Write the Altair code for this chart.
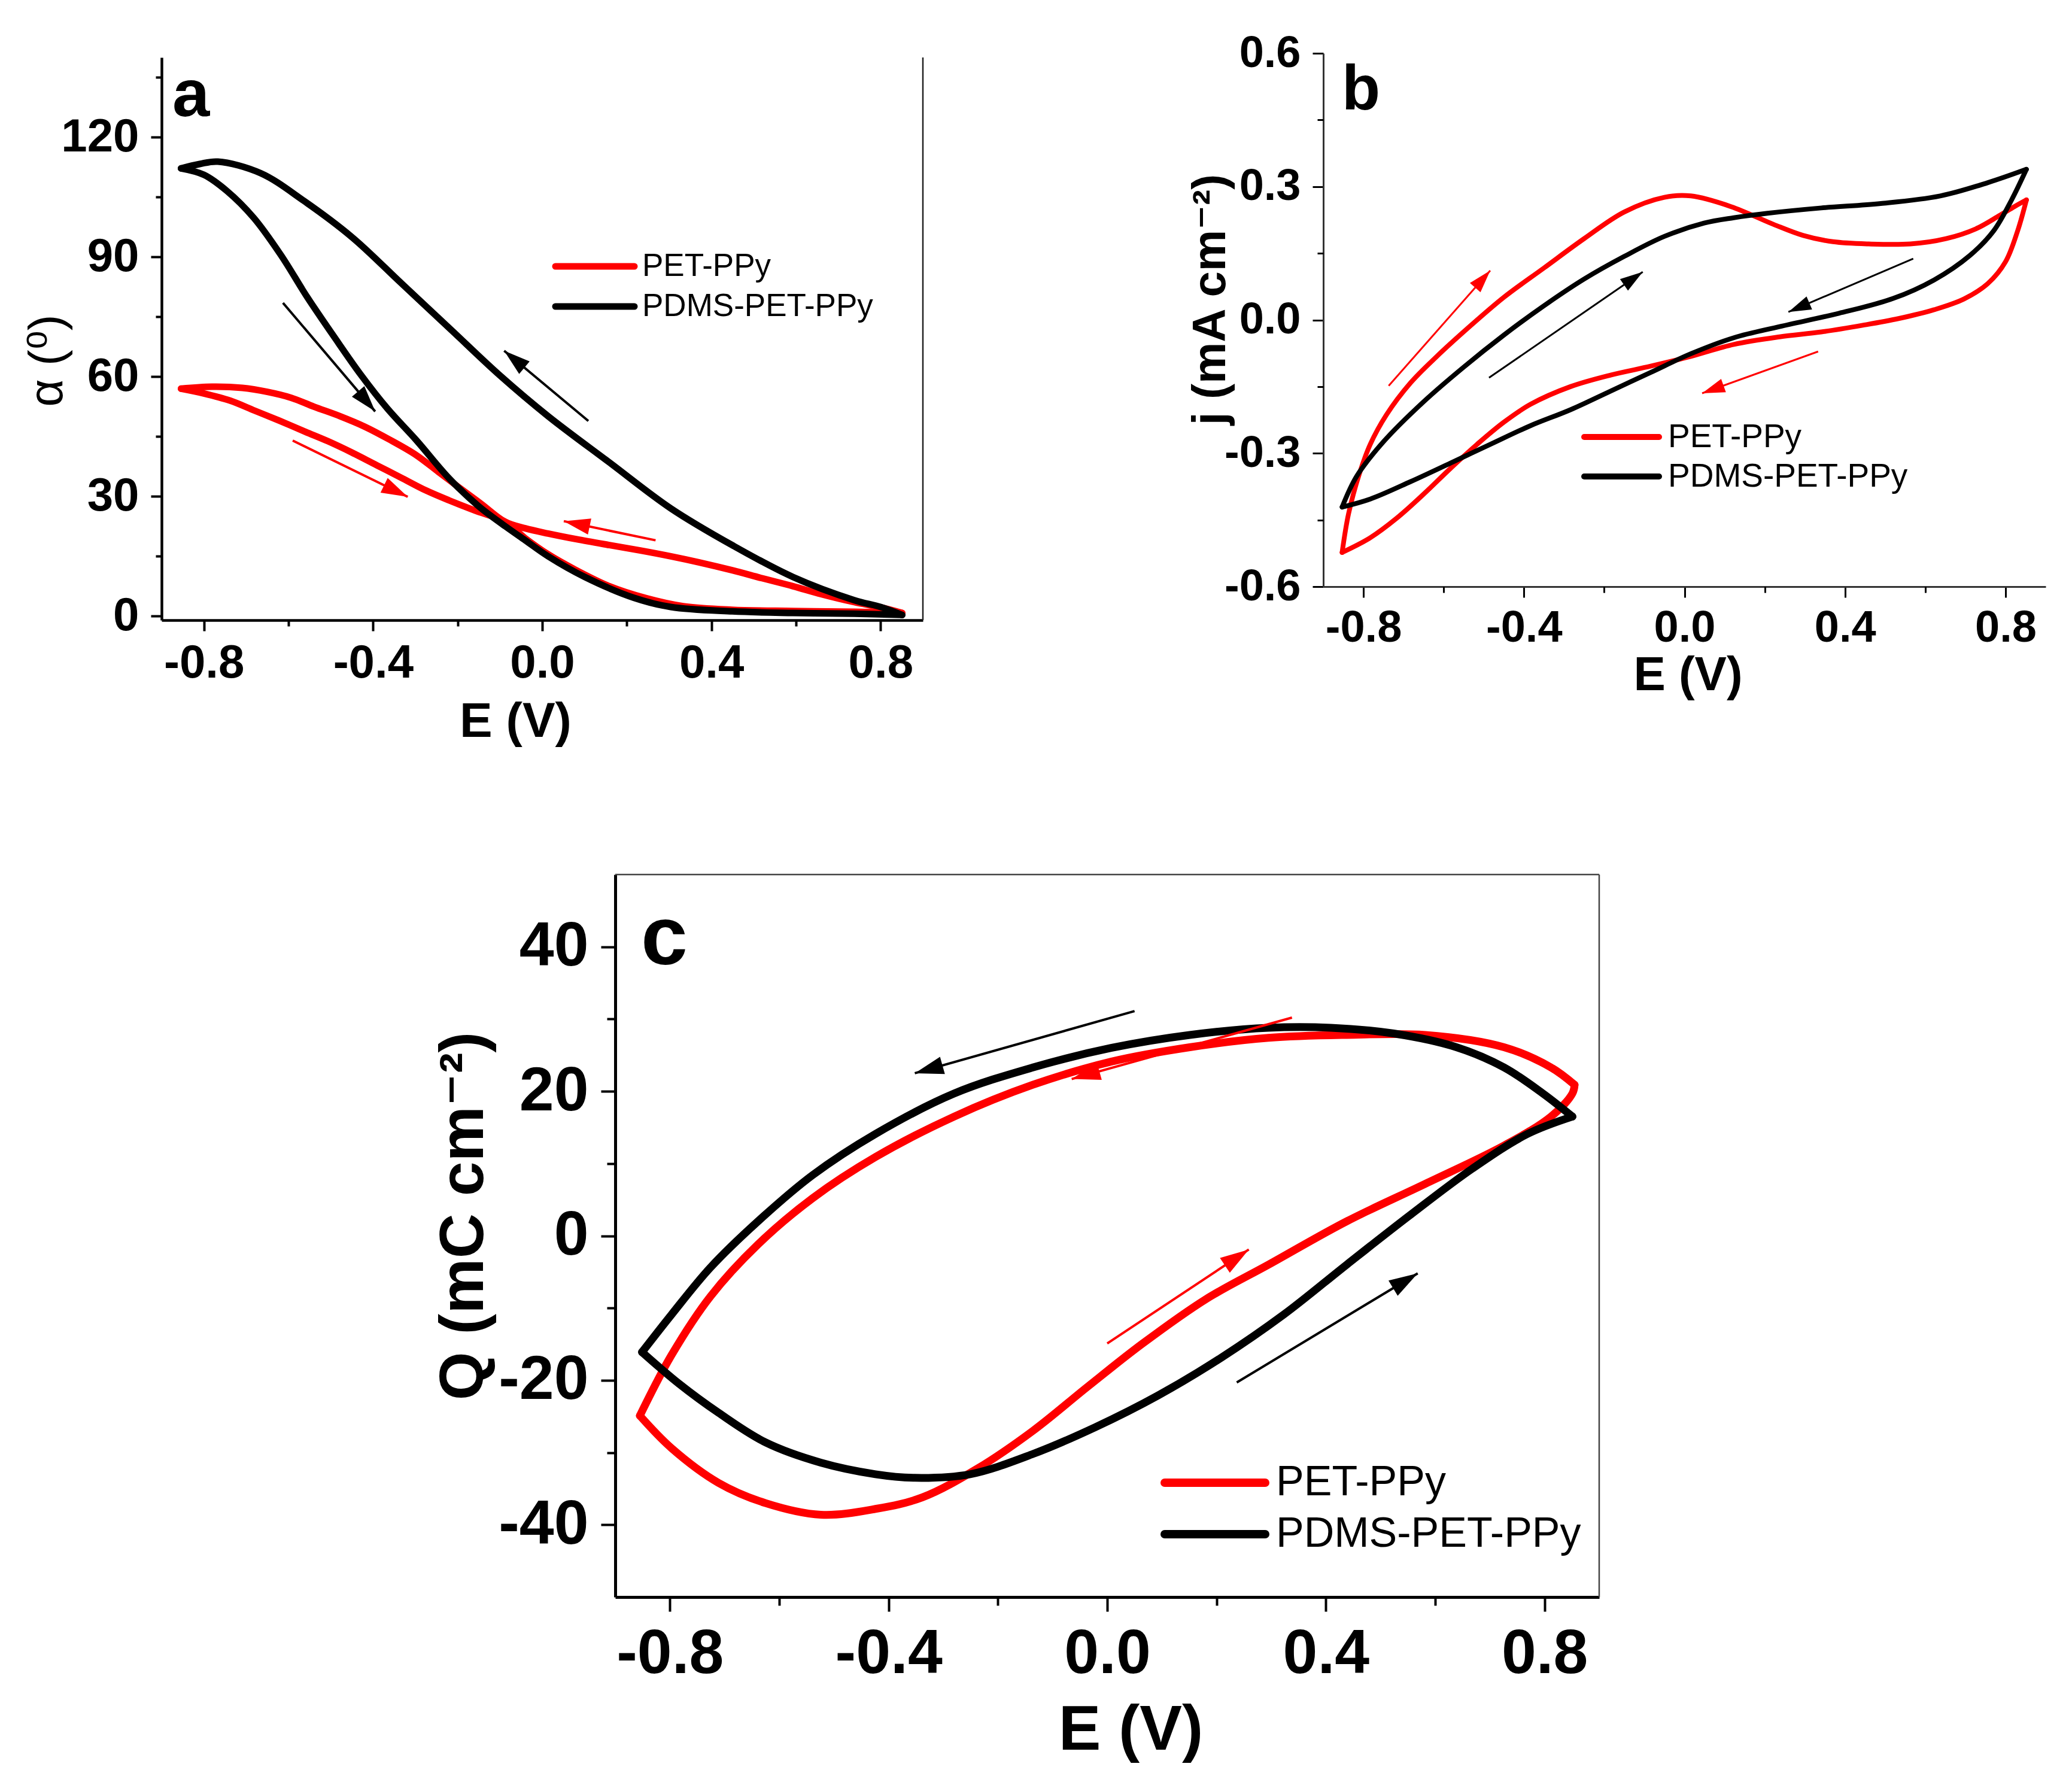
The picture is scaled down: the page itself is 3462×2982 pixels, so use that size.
import math
import altair as alt
import pandas as pd

# ---------------- data ----------------
SERIES = ["PET-PPy", "PDMS-PET-PPy"]
RED = "#ff0000"
BLACK = "#000000"
SERIES_COLORS = [RED, BLACK]

XTICKS = [-0.8, -0.4, 0.0, 0.4, 0.8]
XMINOR = [-0.6, -0.2, 0.2, 0.6]

# panel a : contact angle alpha (deg) vs E (V), each loop in scan order
A_RED_E = [-0.854, -0.80, -0.738, -0.68, -0.622, -0.56, -0.506, -0.45, -0.391, -0.33, -0.275, -0.22, -0.16, -0.087,
           -0.04, 0.014, 0.072, 0.159, 0.246, 0.333, 0.449, 0.593, 0.738, 0.851,
           0.80, 0.738, 0.66, 0.593, 0.52, 0.449, 0.37, 0.304, 0.23, 0.159, 0.08, 0.014, -0.04, -0.087,
           -0.145, -0.2, -0.246, -0.30, -0.362, -0.42, -0.478, -0.54, -0.593, -0.65, -0.709, -0.781, -0.854]
A_RED_V = [57.0, 55.8, 54.0, 51.5, 49.0, 46.2, 43.8, 41.0, 37.8, 34.5, 31.5, 29.0, 26.5, 23.6,
           19.5, 15.5, 12.0, 7.5, 4.5, 2.5, 1.6, 1.3, 1.1, 0.8,
           2.2, 3.5, 5.5, 7.5, 9.5, 11.5, 13.5, 15.0, 16.5, 17.8, 19.3, 20.7, 22.0, 23.6,
           28.2, 32.5, 36.2, 40.5, 44.3, 47.5, 50.1, 52.5, 54.7, 56.2, 57.2, 57.5, 57.0]
A_BLACK_E = [-0.854, -0.80, -0.745, -0.682, -0.618, -0.556, -0.492, -0.429, -0.366, -0.297, -0.22, -0.15, -0.087,
             -0.04, 0.014, 0.101, 0.217, 0.304, 0.449, 0.593, 0.738, 0.851,
             0.80, 0.738, 0.593, 0.449, 0.304, 0.159, 0.014, -0.101, -0.217, -0.333, -0.449, -0.564, -0.666,
             -0.767, -0.81, -0.854]
A_BLACK_V = [112.2, 110.6, 106.5, 99.8, 90.5, 80.0, 70.0, 60.5, 52.0, 44.0, 34.5, 27.5, 22.5,
             19.0, 15.0, 9.8, 4.6, 2.3, 1.2, 0.8, 0.6, 0.3,
             2.3, 4.0, 9.8, 17.8, 27.0, 38.5, 50.1, 60.4, 71.9, 83.4, 94.9, 104.1, 111.0,
             113.9, 113.3, 112.2]
A_ARROW_E0 = [-0.613, 0.109, -0.590, 0.268]
A_ARROW_V0 = [78.5, 48.9, 44.0, 19.0]
A_ARROW_E1 = [-0.395, -0.09, -0.318, 0.051]
A_ARROW_V1 = [51.3, 66.5, 29.9, 23.8]
A_ARROW_C = [BLACK, BLACK, RED, RED]

# panel b : current density j (mA cm-2) vs E (V)
B_RED_E = [-0.853, -0.837, -0.81, -0.783, -0.743, -0.683, -0.617, -0.543, -0.45, -0.35, -0.25, -0.15, -0.05, 0.016,
           0.116, 0.222, 0.296, 0.37, 0.459, 0.563, 0.652, 0.726, 0.785, 0.822, 0.852,
           0.83, 0.80, 0.756, 0.696, 0.622, 0.533, 0.444, 0.341, 0.237, 0.123, 0.016, -0.084, -0.184, -0.284,
           -0.384, -0.45, -0.517, -0.583, -0.65, -0.717, -0.783, -0.853]
B_RED_J = [-0.523, -0.436, -0.346, -0.28, -0.214, -0.142, -0.082, -0.021, 0.051, 0.117, 0.183, 0.243, 0.276, 0.279,
           0.255, 0.215, 0.19, 0.176, 0.171, 0.171, 0.183, 0.205, 0.235, 0.255, 0.27,
           0.2, 0.131, 0.082, 0.047, 0.023, 0.003, -0.012, -0.027, -0.038, -0.055, -0.082, -0.104, -0.124, -0.15,
           -0.19, -0.23, -0.28, -0.334, -0.392, -0.446, -0.49, -0.523]
B_BLACK_E = [-0.853, -0.817, -0.75, -0.65, -0.55, -0.45, -0.35, -0.25, -0.15, -0.05, 0.049, 0.123, 0.207, 0.341,
             0.489, 0.637, 0.756, 0.852,
             0.815, 0.77, 0.711, 0.622, 0.519, 0.385, 0.237, 0.123, 0.016, -0.084, -0.184, -0.284, -0.384,
             -0.484, -0.583, -0.683, -0.783, -0.853]
B_BLACK_J = [-0.421, -0.352, -0.274, -0.184, -0.106, -0.034, 0.032, 0.092, 0.143, 0.188, 0.218, 0.23, 0.24, 0.252,
             0.262, 0.279, 0.309, 0.339,
             0.27, 0.2, 0.145, 0.09, 0.048, 0.015, -0.015, -0.04, -0.076, -0.118, -0.16, -0.202, -0.238,
             -0.28, -0.322, -0.364, -0.403, -0.421]
B_ARROW_E0 = [-0.737, -0.487, 0.57, 0.333]
B_ARROW_V0 = [-0.148, -0.13, 0.138, -0.071]
B_ARROW_E1 = [-0.484, -0.104, 0.259, 0.044]
B_ARROW_V1 = [0.111, 0.108, 0.018, -0.165]
B_ARROW_C = [RED, BLACK, BLACK, RED]

# panel c : charge Q (mC cm-2) vs E (V)
C_RED_E = [-0.855, -0.797, -0.711, -0.625, -0.524, -0.424, -0.338, -0.237, -0.136, -0.036, 0.065, 0.18, 0.295,
           0.438, 0.582, 0.726, 0.812, 0.851, 0.855,
           0.812, 0.726, 0.582, 0.438, 0.295, 0.151, 0.007, -0.136, -0.28, -0.424, -0.539, -0.639, -0.726,
           -0.797, -0.855]
C_RED_Q = [-24.9, -29.4, -34.2, -37.0, -38.6, -37.8, -36.2, -32.2, -27.0, -20.9, -14.9, -8.8, -4.0,
           2.0, 7.2, 12.5, 16.5, 19.7, 20.9,
           23.3, 26.1, 27.8, 27.8, 27.4, 26.1, 24.1, 20.9, 16.5, 10.9, 5.2, -1.2, -8.4,
           -16.5, -24.9]
C_BLACK_E = [-0.851, -0.783, -0.711, -0.625, -0.524, -0.424, -0.352, -0.251, -0.136, -0.022, 0.093, 0.208, 0.323,
             0.438, 0.553, 0.668, 0.769, 0.851,
             0.797, 0.726, 0.639, 0.524, 0.409, 0.295, 0.151, 0.007, -0.136, -0.28, -0.424, -0.539, -0.639,
             -0.726, -0.797, -0.851]
C_BLACK_Q = [-16.1, -20.5, -24.5, -28.6, -31.4, -33.0, -33.5, -33.0, -30.2, -26.5, -22.1, -16.9, -10.9,
             -4.0, 2.8, 9.3, 14.1, 16.5,
             19.7, 23.3, 26.1, 28.0, 28.8, 28.8, 27.8, 26.0, 23.3, 19.7, 14.1, 8.4, 2.0,
             -4.4, -10.9, -16.1]
C_ARROW_E0 = [0.05, 0.338, 0.0, 0.237]
C_ARROW_V0 = [31.1, 30.2, -14.9, -20.3]
C_ARROW_E1 = [-0.352, -0.065, 0.259, 0.568]
C_ARROW_V1 = [22.5, 21.7, -1.9, -5.2]
C_ARROW_C = [BLACK, RED, RED, BLACK]

# ---------------- layout / style ----------------
W, H = 3462, 2982
XD = [-0.9, 0.9]
FONT = "Liberation Sans, Arial, Helvetica, DejaVu Sans, sans-serif"
HEAD = "M0,0L0.62,2L-0.62,2Z"

PA = dict(xr=[270, 1542], yr=[1036, 96], yd=[-1, 140], yv=[0, 30, 60, 90, 120], ym=[15, 45, 75, 105, 135],
          yfmt="d", lw=11, aw=4, head=44, tick=18, mtick=10, tw=4, dw=4.5, dc="black",
          lfs=78, lpx=15, lpy=20, tfs=82, xt=(861, 194), yt=(-167, 602), ytfs=80, ytw="normal",
          ytitle="\u03b1 (\u2070)",
          letter="a", lx=288, ly=194, lfsz=112,
          leg=dict(x0=928, x1=1060, tx=1073, y=[445, 512], fs=53, w=11))
PB = dict(xr=[2211, 3418], yr=[980, 89], yd=[-0.6, 0.6], yv=[-0.6, -0.3, 0.0, 0.3, 0.6],
          ym=[-0.45, -0.15, 0.15, 0.45], yfmt=".1f", lw=8, aw=3, head=38, tick=18, mtick=10, tw=3, dw=3,
          dc="#333333", lfs=74, lpx=15, lpy=20, tfs=80, xt=(2820, 172), yt=(-165, 500), ytfs=78, ytw="bold",
          ytitle="j (mA cm\u207b\u00b2)",
          letter="b", lx=2242, ly=183, lfsz=105,
          leg=dict(x0=2647, x1=2772, tx=2787, y=[730, 796], fs=55, w=10))
PC = dict(xr=[1028, 2672], yr=[2668, 1461], yd=[-50, 50], yv=[-40, -20, 0, 20, 40],
          ym=[-30, -10, 10, 30], yfmt="d", lw=13, aw=4, head=48, tick=24, mtick=14, tw=4, dw=5,
          dc="black", lfs=104, lpx=20, lpy=21, tfs=106, xt=(1889, 254), yt=(-222, 2031), ytfs=104,
          ytw="bold", ytitle="Q (mC cm\u207b\u00b2)",
          letter="c", lx=1071, ly=1611, lfsz=140,
          leg=dict(x0=1946, x1=2114, tx=2132, y=[2477, 2563], fs=70, w=14))


def fmt_expr(f):
    return f"datum.value < 0 ? '-' + format(-datum.value, '{f}') : format(datum.value, '{f}')"


ONE = pd.DataFrame({"k": [0]})


def loop_rows(name, col, es, vs):
    """Split a closed scan loop into its forward and reverse branches at the turning point."""
    turn = max(range(len(es)), key=lambda k: es[k])
    rows = []
    for b, idx in enumerate([range(0, turn + 1), range(turn, len(es))]):
        for i in idx:
            rows.append({"E": es[i], "v": vs[i], "s": name, "col": col, "br": f"{name}-{b}", "i": i})
    return rows


def panel(P, red_e, red_v, blk_e, blk_v, ae0, av0, ae1, av1, acol):
    xs = alt.Scale(domain=XD, range=P["xr"], nice=False, zero=False)
    ys = alt.Scale(domain=P["yd"], range=P["yr"], nice=False, zero=False)

    rows = loop_rows(SERIES[0], SERIES_COLORS[0], red_e, red_v) + \
        loop_rows(SERIES[1], SERIES_COLORS[1], blk_e, blk_v)
    df = pd.DataFrame(rows)

    xmaj = alt.Axis(orient="bottom", offset=P["yr"][0] - H, values=XTICKS, labelExpr=fmt_expr(".1f"),
                    tickSize=P["tick"], tickWidth=P["tw"], tickColor="black",
                    domainColor=P["dc"], domainWidth=P["dw"],
                    labelFont=FONT, labelFontSize=P["lfs"], labelFontWeight="bold", labelColor="black",
                    labelPadding=P["lpx"], labelFlush=False, labelOverlap=False, grid=False,
                    title="E (V)", titleFont=FONT, titleFontSize=P["tfs"], titleFontWeight="bold",
                    titleColor="black", titleX=P["xt"][0], titleY=P["xt"][1], titleAlign="center",
                    titleBaseline="alphabetic", titleAngle=0)
    ymaj = alt.Axis(orient="left", offset=-P["xr"][0], values=P["yv"], labelExpr=fmt_expr(P["yfmt"]),
                    tickSize=P["tick"], tickWidth=P["tw"], tickColor="black",
                    domainColor=P["dc"], domainWidth=P["dw"],
                    labelFont=FONT, labelFontSize=P["lfs"], labelFontWeight="bold", labelColor="black",
                    labelPadding=P["lpy"], labelFlush=False, labelOverlap=False, grid=False,
                    title=P["ytitle"], titleFont=FONT, titleFontSize=P["ytfs"], titleFontWeight=P["ytw"],
                    titleColor="black", titleX=P["yt"][0], titleY=P["yt"][1], titleAlign="center",
                    titleBaseline="alphabetic", titleAngle=270)
    xmin = alt.Axis(orient="bottom", offset=P["yr"][0] - H, values=XMINOR, labels=False, domain=False,
                    tickSize=P["mtick"], tickWidth=P["tw"], tickColor="black", grid=False, title=None)
    ymin = alt.Axis(orient="left", offset=-P["xr"][0], values=P["ym"], labels=False, domain=False,
                    tickSize=P["mtick"], tickWidth=P["tw"], tickColor="black", grid=False, title=None)

    lines = alt.Chart(df).mark_line(strokeWidth=P["lw"], interpolate="catmull-rom",
                                    strokeJoin="round", strokeCap="round").encode(
        x=alt.X("E:Q", scale=xs, axis=xmaj),
        y=alt.Y("v:Q", scale=ys, axis=ymaj),
        color=alt.Color("col:N", scale=None),
        detail="br:N",
        order="i:Q",
    )
    minor = alt.Chart(df).mark_point(opacity=0, size=1).encode(
        x=alt.X("E:Q", scale=xs, axis=xmin),
        y=alt.Y("v:Q", scale=ys, axis=ymin),
    )

    sx = (P["xr"][1] - P["xr"][0]) / (XD[1] - XD[0])
    sy = (P["yr"][0] - P["yr"][1]) / (P["yd"][1] - P["yd"][0])
    angs = []
    for e0, v0, e1, v1 in zip(ae0, av0, ae1, av1):
        dx = (e1 - e0) * sx
        dy = -(v1 - v0) * sy
        angs.append(math.degrees(math.atan2(dx, -dy)) % 360)
    adf = pd.DataFrame({"E0": ae0, "V0": av0, "E1": ae1, "V1": av1, "col": acol, "ang": angs})

    arrows = alt.Chart(adf).mark_rule(strokeWidth=P["aw"]).encode(
        x=alt.X("E0:Q", scale=xs, axis=None),
        y=alt.Y("V0:Q", scale=ys, axis=None),
        x2="E1:Q", y2="V1:Q",
        color=alt.Color("col:N", scale=None),
    )
    heads = alt.Chart(adf).mark_point(shape=HEAD, filled=True, opacity=1, size=P["head"] ** 2,
                                      strokeWidth=0).encode(
        x=alt.X("E1:Q", scale=xs, axis=None),
        y=alt.Y("V1:Q", scale=ys, axis=None),
        angle=alt.Angle("ang:Q", scale=None),
        color=alt.Color("col:N", scale=None),
    )

    letter = alt.Chart(ONE).mark_text(text=P["letter"], font=FONT, fontSize=P["lfsz"], fontWeight="bold",
                                      align="left", baseline="alphabetic", color="black").encode(
        x=alt.value(P["lx"]), y=alt.value(P["ly"]))

    L = P["leg"]
    legend = []
    for k in range(2):
        legend.append(alt.Chart(ONE).mark_rule(color=SERIES_COLORS[k], strokeWidth=L["w"], strokeCap="round").encode(
            x=alt.value(L["x0"]), x2=alt.value(L["x1"]), y=alt.value(L["y"][k])))
        legend.append(alt.Chart(ONE).mark_text(text=SERIES[k], font=FONT, fontSize=L["fs"], align="left",
                                               baseline="middle", color="black").encode(
            x=alt.value(L["tx"]), y=alt.value(L["y"][k])))
    return [lines, minor, arrows, heads, letter] + legend


layers = []
layers += panel(PA, A_RED_E, A_RED_V, A_BLACK_E, A_BLACK_V, A_ARROW_E0, A_ARROW_V0, A_ARROW_E1, A_ARROW_V1, A_ARROW_C)
layers += panel(PB, B_RED_E, B_RED_J, B_BLACK_E, B_BLACK_J, B_ARROW_E0, B_ARROW_V0, B_ARROW_E1, B_ARROW_V1, B_ARROW_C)
layers += panel(PC, C_RED_E, C_RED_Q, C_BLACK_E, C_BLACK_Q, C_ARROW_E0, C_ARROW_V0, C_ARROW_E1, C_ARROW_V1, C_ARROW_C)

# frame lines (panel a right edge, panel c top and right edges)
frame = [
    alt.Chart(ONE).mark_rule(color="#222222", strokeWidth=2.5).encode(
        x=alt.value(PA["xr"][1]), y=alt.value(PA["yr"][1]), y2=alt.value(PA["yr"][0])),
    alt.Chart(ONE).mark_rule(color="#444444", strokeWidth=2.5).encode(
        x=alt.value(PC["xr"][0]), x2=alt.value(PC["xr"][1]), y=alt.value(PC["yr"][1])),
    alt.Chart(ONE).mark_rule(color="#444444", strokeWidth=2.5).encode(
        x=alt.value(PC["xr"][1]), y=alt.value(PC["yr"][1]), y2=alt.value(PC["yr"][0])),
]

chart = alt.layer(*(frame + layers)).resolve_scale(
    x="independent", y="independent"
).properties(
    width=W, height=H, autosize=alt.AutoSizeParams(type="none"), padding=0
).configure_view(stroke=None)

chart.save("out.html", embed_options={"renderer": "svg", "actions": False})
